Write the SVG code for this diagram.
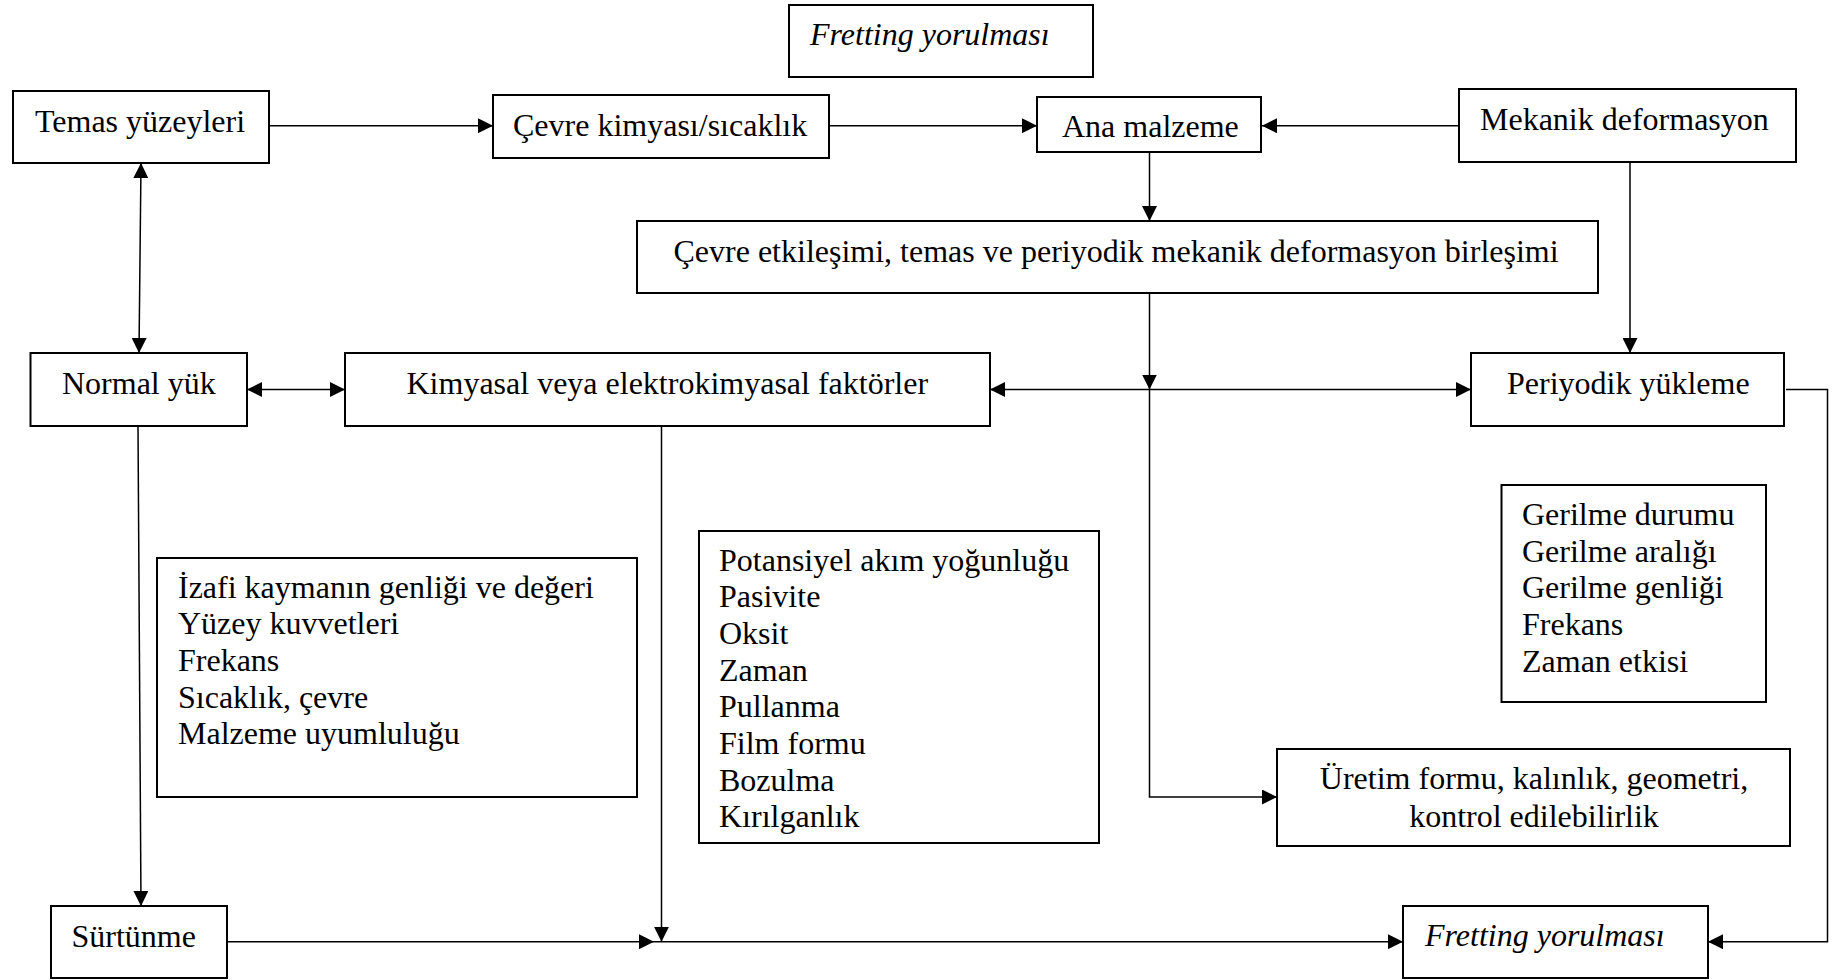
<svg xmlns="http://www.w3.org/2000/svg" width="1838" height="980" viewBox="0 0 1838 980">
<style>
.box{fill:#fff;stroke:#000;stroke-width:2}
.t{font-family:"Liberation Serif","Times New Roman",serif;font-size:32px;fill:#000}
.i{font-style:italic}
.c{fill:none;stroke:#000;stroke-width:1.5}
</style>
<defs>
<marker id="ah" markerUnits="userSpaceOnUse" markerWidth="15" markerHeight="15" refX="15" refY="7.5" orient="auto-start-reverse">
<path d="M0,0 L15,7.5 L0,15 z" fill="#000"/>
</marker>
</defs>
<rect width="1838" height="980" fill="#fff"/>
<g id="connectors">
<line class="c" x1="269" y1="125.7" x2="493" y2="125.7" marker-end="url(#ah)"/>
<line class="c" x1="829" y1="125.7" x2="1037" y2="125.7" marker-end="url(#ah)"/>
<line class="c" x1="1459" y1="125.7" x2="1262" y2="125.7" marker-end="url(#ah)"/>
<line class="c" x1="1149.5" y1="152" x2="1149.5" y2="221" marker-end="url(#ah)"/>
<line class="c" x1="141" y1="163" x2="139" y2="353" marker-start="url(#ah)" marker-end="url(#ah)"/>
<line class="c" x1="247" y1="389.5" x2="345" y2="389.5" marker-start="url(#ah)" marker-end="url(#ah)"/>
<line class="c" x1="1630" y1="162" x2="1630" y2="353" marker-end="url(#ah)"/>
<line class="c" x1="1149.5" y1="293" x2="1149.5" y2="389.5" marker-end="url(#ah)"/>
<line class="c" x1="990" y1="389.5" x2="1471" y2="389.5" marker-start="url(#ah)" marker-end="url(#ah)"/>
<polyline class="c" points="1149.5,389.5 1149.5,797 1277,797" marker-end="url(#ah)"/>
<polyline class="c" points="1786,389.5 1827.5,389.5 1827.5,941.7 1708,941.7" marker-end="url(#ah)"/>
<line class="c" x1="138" y1="426" x2="141" y2="906" marker-end="url(#ah)"/>
<line class="c" x1="661.5" y1="426" x2="661.5" y2="941.7" marker-end="url(#ah)"/>
<line class="c" x1="227" y1="941.7" x2="654" y2="941.7" marker-end="url(#ah)"/>
<line class="c" x1="654" y1="941.7" x2="1403" y2="941.7" marker-end="url(#ah)"/>
</g>
<g id="fretting-top"><rect class="box" x="789" y="5" width="304" height="72"/><text class="t i" x="810" y="45">Fretting yorulması</text></g>
<g id="temas"><rect class="box" x="13" y="91" width="256" height="72"/><text class="t" x="35" y="132">Temas yüzeyleri</text></g>
<g id="cevre-kimyasi"><rect class="box" x="493" y="95" width="336" height="63"/><text class="t" x="513" y="135.5">Çevre kimyası/sıcaklık</text></g>
<g id="ana-malzeme"><rect class="box" x="1037" y="97" width="224" height="55"/><text class="t" x="1062" y="137">Ana malzeme</text></g>
<g id="mekanik"><rect class="box" x="1459" y="89" width="337" height="73"/><text class="t" x="1480" y="130">Mekanik deformasyon</text></g>
<g id="cevre-etkilesimi"><rect class="box" x="637" y="221" width="961" height="72"/><text class="t" x="673.5" y="261.7">Çevre etkileşimi, temas ve periyodik mekanik deformasyon birleşimi</text></g>
<g id="normal-yuk"><rect class="box" x="30.5" y="353" width="216.5" height="73"/><text class="t" x="62" y="394">Normal yük</text></g>
<g id="kimyasal"><rect class="box" x="345" y="353" width="645" height="73"/><text class="t" x="406.5" y="394">Kimyasal veya elektrokimyasal faktörler</text></g>
<g id="periyodik"><rect class="box" x="1471" y="353" width="313" height="73"/><text class="t" x="1507" y="394">Periyodik yükleme</text></g>
<g id="izafi"><rect class="box" x="157" y="558" width="480" height="239"/>
<text class="t" x="178" y="597.7">İzafi kaymanın genliği ve değeri</text>
<text class="t" x="178" y="634.3">Yüzey kuvvetleri</text>
<text class="t" x="178" y="671">Frekans</text>
<text class="t" x="178" y="707.7">Sıcaklık, çevre</text>
<text class="t" x="178" y="744.3">Malzeme uyumluluğu</text></g>
<g id="potansiyel"><rect class="box" x="699" y="531" width="400" height="312"/>
<text class="t" x="719" y="570.7">Potansiyel akım yoğunluğu</text>
<text class="t" x="719" y="607.3">Pasivite</text>
<text class="t" x="719" y="644">Oksit</text>
<text class="t" x="719" y="680.7">Zaman</text>
<text class="t" x="719" y="717.3">Pullanma</text>
<text class="t" x="719" y="754">Film formu</text>
<text class="t" x="719" y="790.7">Bozulma</text>
<text class="t" x="719" y="827.3">Kırılganlık</text></g>
<g id="gerilme"><rect class="box" x="1501.5" y="485" width="264.5" height="217"/>
<text class="t" x="1522" y="525">Gerilme durumu</text>
<text class="t" x="1522" y="561.7">Gerilme aralığı</text>
<text class="t" x="1522" y="598.3">Gerilme genliği</text>
<text class="t" x="1522" y="635">Frekans</text>
<text class="t" x="1522" y="671.7">Zaman etkisi</text></g>
<g id="uretim"><rect class="box" x="1277" y="749" width="513" height="97"/>
<text class="t" x="1534" y="789" text-anchor="middle">Üretim formu, kalınlık, geometri,</text>
<text class="t" x="1534" y="826.5" text-anchor="middle">kontrol edilebilirlik</text></g>
<g id="surtunme"><rect class="box" x="51" y="906" width="176" height="72"/><text class="t" x="71.5" y="946.5">Sürtünme</text></g>
<g id="fretting-bottom"><rect class="box" x="1403" y="906" width="305" height="72"/><text class="t i" x="1425" y="946">Fretting yorulması</text></g>
</svg>
